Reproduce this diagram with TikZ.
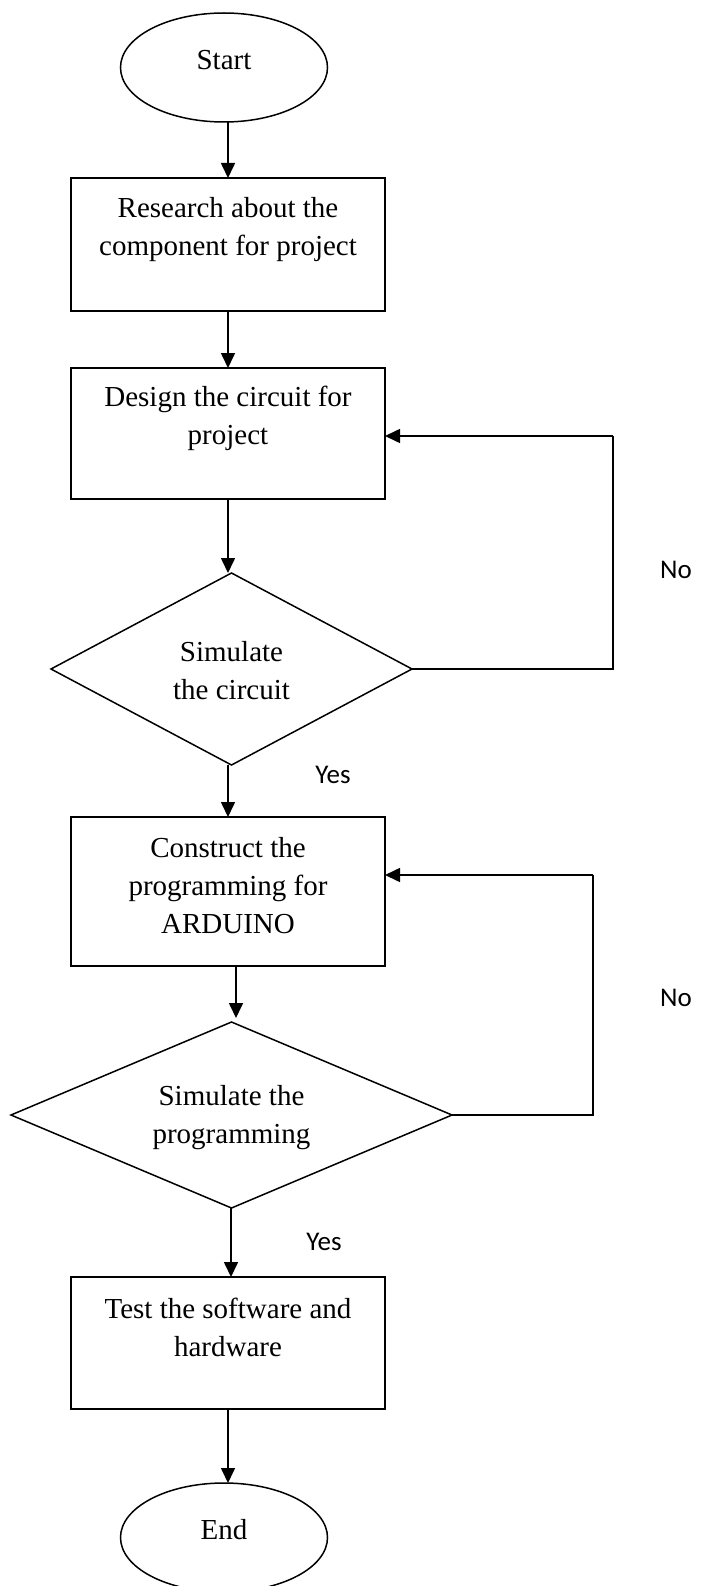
\documentclass[tikz,border=0pt]{standalone}
\usepackage{fontspec}
\setmainfont{Liberation Serif}
\newfontfamily\labelfont{Carlito}
\usetikzlibrary{shapes.geometric,arrows.meta}

\begin{document}
\begin{tikzpicture}[x=1pt,y=-1pt,
  every node/.style={inner sep=0pt, outer sep=0pt},
  body/.style={font=\fontsize{29}{38}\selectfont, align=center},
  terminal/.style={draw, ellipse, line width=1.5pt, minimum width=207pt, minimum height=109pt},
  stepbox/.style={draw, rectangle, line width=1.8pt, minimum width=314pt},
  decision/.style={draw, diamond, line width=1.5pt},
  answer/.style={font=\labelfont\fontsize{27}{32}\selectfont},
  arr/.style={line width=1.6pt, -{Triangle[length=15pt,width=14pt]}},
  link/.style={line width=1.6pt}]
\useasboundingbox (0,0) rectangle (701,1586);

% terminals
\node[terminal] (start) at (224,67.5) {};
\node[body] (tstart) at (224,60) {Start};
\node[terminal] (end) at (224,1537.5) {};
\node[body] (tend) at (224,1530) {End};

% process boxes
\node[stepbox, minimum height=133pt] (b1) at (228,244.5) {};
\node[body] (t1) at (228,230) {Research about the\\component for project};
\node[stepbox, minimum height=131pt] (b2) at (228,433.5) {};
\node[body] (t2) at (228,418) {Design the circuit for\\project};
\node[stepbox, minimum height=149pt] (b3) at (228,891.5) {};
\node[body] (t3) at (228,886) {Construct the\\programming for\\ARDUINO};
\node[stepbox, minimum height=132pt] (b4) at (228,1343) {};
\node[body] (t4) at (228,1327) {Test the software and\\hardware};

% decisions
\node[decision, minimum width=361pt, minimum height=192pt] (d1) at (231.5,669) {};
\node[body] (td1) at (231.5,671) {Simulate\\the circuit};
\node[decision, minimum width=441pt, minimum height=186pt] (d2) at (231.5,1115) {};
\node[body] (td2) at (231.5,1118) {Simulate the\\programming};

% answers
\node[answer] (no1) at (676,570) {No};
\node[answer] (yes1) at (333,775) {Yes};
\node[answer] (no2) at (676,998) {No};
\node[answer] (yes2) at (324,1242) {Yes};

% main flow
\coordinate (a0) at (228,0);
\draw[arr] (start.south -| a0) -- (b1.north -| a0);
\draw[arr] (b1.south -| a0) -- (b2.north -| a0);
\draw[arr] (b2.south -| a0) -- (d1.north -| a0);
\draw[arr] (d1.south -| a0) -- (b3.north -| a0);
\coordinate (a1) at (236,0);
\draw[arr] (b3.south -| a1) -- ([yshift=4pt]d2.north -| a1);
\coordinate (a2) at (231,0);
\draw[arr] (d2.south -| a2) -- (b4.north -| a2);
\draw[arr] (b4.south -| a0) -- (end.north -| a0);

% feedback loops
\coordinate (r1) at (613,436);
\draw[link] (d1.east) -- (d1.east -| r1) -- (r1);
\draw[arr] (r1) -- (r1 -| b2.east);
\coordinate (r2) at (593,875);
\draw[link] (d2.east) -- (d2.east -| r2) -- (r2);
\draw[arr] (r2) -- (r2 -| b3.east);
\end{tikzpicture}
\end{document}
